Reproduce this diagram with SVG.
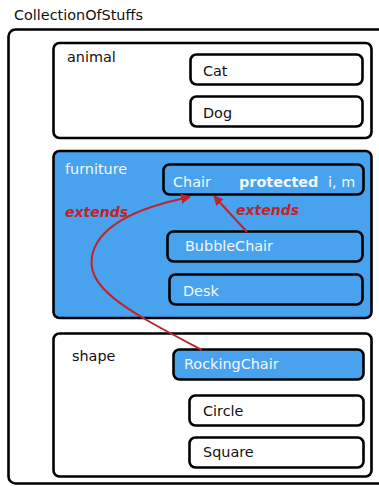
<svg xmlns="http://www.w3.org/2000/svg" width="379" height="486" viewBox="0 0 379 486">
<style>
text{font-family:"DejaVu Sans",Verdana,sans-serif;font-size:14.4px;fill:#111}
.box{fill:#fff;stroke:#000;stroke-width:2.6}
.blue{fill:#48a2ee;stroke:#000;stroke-width:2.6}
.w{fill:#f4f8ff}
.b{font-weight:bold}
.ext{font-weight:bold;font-style:italic;font-size:14px;fill:#c0232b}
.edge{fill:none;stroke:#c0232b;stroke-width:2}
</style>
<defs>
<marker id="ah" viewBox="0 0 10 10" refX="9" refY="5" markerWidth="10" markerHeight="10" markerUnits="userSpaceOnUse" orient="auto">
<path d="M0,0 L10,5 L0,10 z" fill="#c0232b"/>
</marker>
</defs>
<rect width="379" height="486" fill="#fff"/>
<text x="14" y="20">CollectionOfStuffs</text>
<g id="CollectionOfStuffs">
<rect class="box" x="8.5" y="29.5" width="400" height="454" rx="7"/>
</g>
<g id="animal">
<rect class="box" x="53.5" y="43" width="318" height="95" rx="6"/>
<text x="67" y="62">animal</text>
</g>
<g id="Cat">
<rect class="box" x="190.5" y="54.5" width="172" height="30" rx="6"/>
<text x="203" y="76">Cat</text>
</g>
<g id="Dog">
<rect class="box" x="190.5" y="96.5" width="172" height="30" rx="6"/>
<text x="203" y="118">Dog</text>
</g>
<g id="furniture">
<rect class="blue" x="53.5" y="151" width="318" height="167" rx="6"/>
<text class="w" x="65" y="174">furniture</text>
</g>
<g id="Chair">
<rect class="blue" x="163.5" y="164.5" width="200" height="30" rx="6"/>
<text class="w" x="173" y="187">Chair</text>
<text class="w b" x="239" y="187">protected</text>
<text class="w" x="328" y="187">i, m</text>
</g>
<g id="BubbleChair">
<rect class="blue" x="167.5" y="231.5" width="195" height="30" rx="6"/>
<text class="w" x="185" y="251">BubbleChair</text>
</g>
<g id="Desk">
<rect class="blue" x="169.5" y="274.5" width="193" height="30" rx="6"/>
<text class="w" x="183" y="296">Desk</text>
</g>
<g id="shape">
<rect class="box" x="53.5" y="333.5" width="318" height="143" rx="6"/>
<text x="72" y="361">shape</text>
</g>
<g id="RockingChair">
<rect class="blue" x="173.5" y="349.5" width="190" height="30" rx="6"/>
<text class="w" x="184" y="369">RockingChair</text>
</g>
<g id="Circle">
<rect class="box" x="189.5" y="395.5" width="174" height="30" rx="6"/>
<text x="203" y="416">Circle</text>
</g>
<g id="Square">
<rect class="box" x="189.5" y="437.5" width="174" height="30" rx="6"/>
<text x="203" y="457">Square</text>
</g>
<g id="connectors">
<path class="edge" d="M247,232 L214,196" marker-end="url(#ah)"/>
<path class="edge" d="M202,350 C130,312 82,288 93,252 C103,220 150,205 190,197" marker-end="url(#ah)"/>
<text class="ext" x="65" y="217">extends</text>
<text class="ext" x="236" y="215">extends</text>
</g>
</svg>
